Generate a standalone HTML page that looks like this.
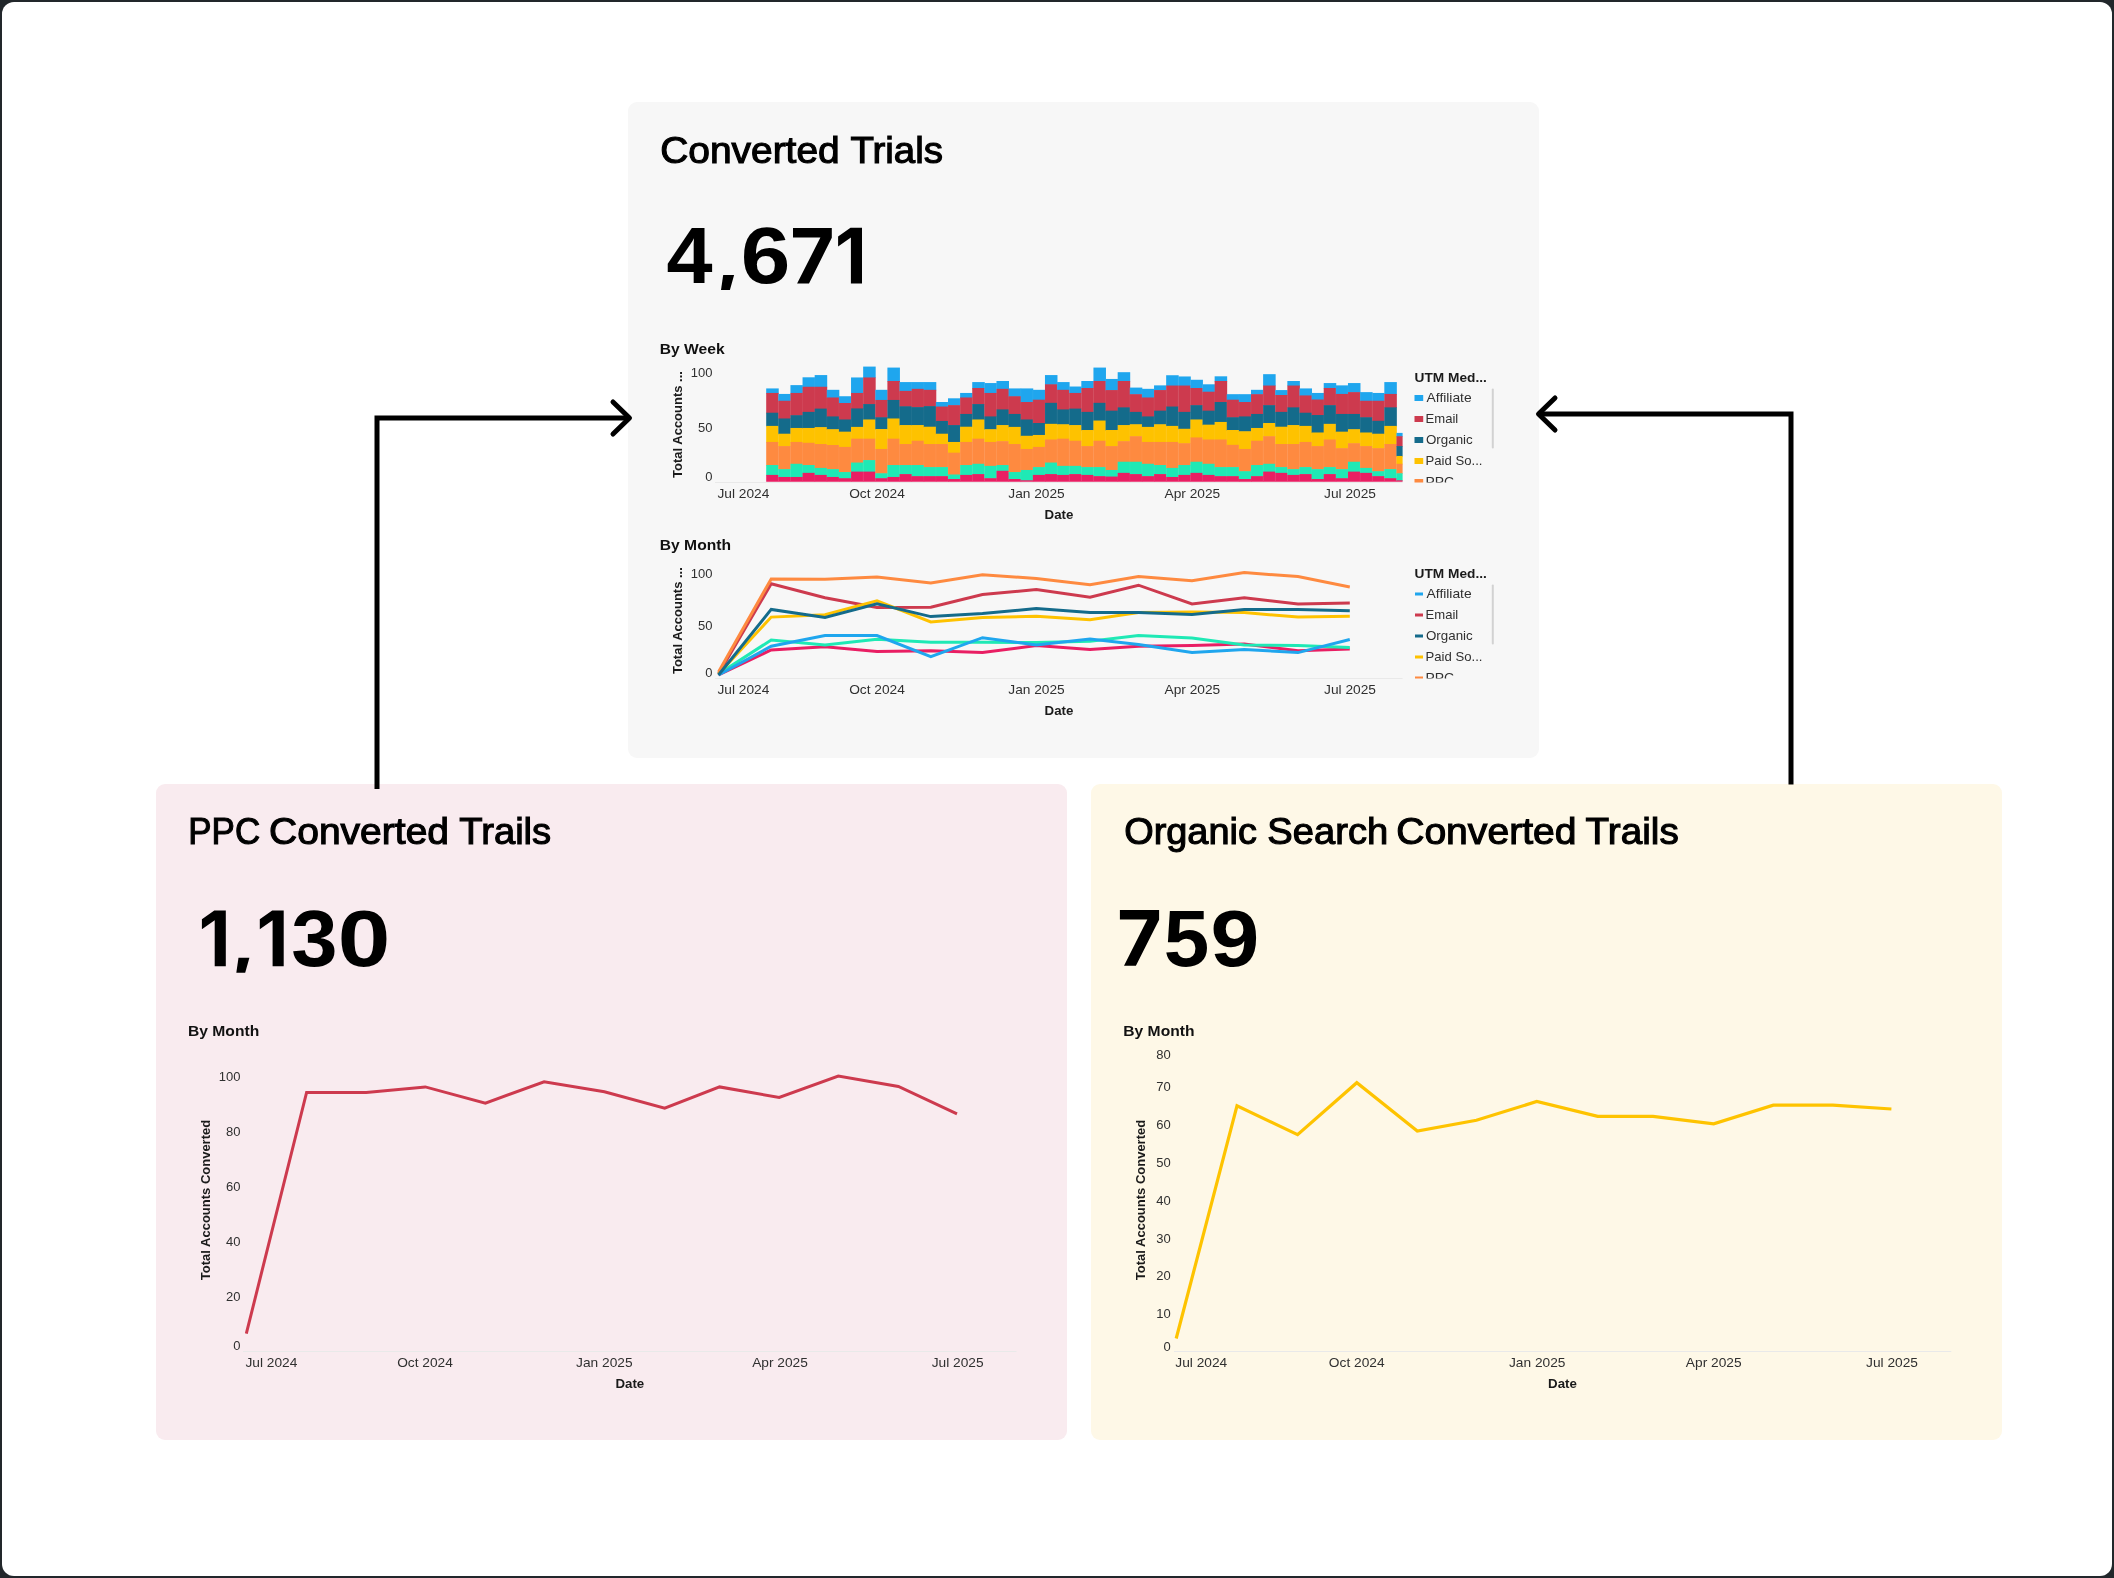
<!DOCTYPE html><html><head><meta charset="utf-8"><style>html,body{margin:0;padding:0;background:#22272b;width:2114px;height:1578px;overflow:hidden}svg{display:block;will-change:transform}text{font-family:"Liberation Sans", sans-serif;-webkit-font-smoothing:antialiased}</style></head><body>
<svg width="2114" height="1578" viewBox="0 0 2114 1578">
<rect x="0" y="0" width="2114" height="1578" fill="#22272b"/>
<rect x="2" y="2" width="2110" height="1574" rx="12" ry="12" fill="#ffffff"/>
<rect x="628" y="102" width="911" height="656" rx="9" fill="#f7f7f7"/>
<rect x="156" y="784" width="911" height="656" rx="9" fill="#f9ebef"/>
<rect x="1091" y="784" width="911" height="656" rx="9" fill="#fef8e7"/>
<g fill="none" stroke="#000" stroke-width="5">
<path d="M377,789 L377,418 L629,418" stroke-linejoin="miter" stroke-linecap="butt"/>
<path d="M613,402 L629.5,418 L613,434" stroke-linejoin="round" stroke-linecap="round"/>
<path d="M1791,784.5 L1791,414 L1538.5,414" stroke-linejoin="miter" stroke-linecap="butt"/>
<path d="M1555,398 L1538.5,414 L1555,430" stroke-linejoin="round" stroke-linecap="round"/>
</g>
<text transform="translate(660.14,162.60) scale(1.0756,1)" x="0" y="0" font-size="36.2" font-weight="400" fill="#000" stroke="#000" stroke-width="1.1">Converted</text>
<text transform="translate(850.42,162.60) scale(1.0630,1)" x="0" y="0" font-size="36.2" font-weight="400" fill="#000" stroke="#000" stroke-width="1.1">Trials</text>
<text transform="translate(188.35,844.40) scale(0.9642,1)" x="0" y="0" font-size="36.2" font-weight="400" fill="#000" stroke="#000" stroke-width="1.1">PPC</text>
<text transform="translate(269.04,844.40) scale(1.0780,1)" x="0" y="0" font-size="36.2" font-weight="400" fill="#000" stroke="#000" stroke-width="1.1">Converted</text>
<text transform="translate(459.22,844.40) scale(1.0561,1)" x="0" y="0" font-size="36.2" font-weight="400" fill="#000" stroke="#000" stroke-width="1.1">Trails</text>
<text transform="translate(1124.18,844.40) scale(1.0473,1)" x="0" y="0" font-size="36.2" font-weight="400" fill="#000" stroke="#000" stroke-width="1.1">Organic</text>
<text transform="translate(1267.36,844.40) scale(1.0538,1)" x="0" y="0" font-size="36.2" font-weight="400" fill="#000" stroke="#000" stroke-width="1.1">Search</text>
<text transform="translate(1396.14,844.40) scale(1.0805,1)" x="0" y="0" font-size="36.2" font-weight="400" fill="#000" stroke="#000" stroke-width="1.1">Converted</text>
<text transform="translate(1585.62,844.40) scale(1.0688,1)" x="0" y="0" font-size="36.2" font-weight="400" fill="#000" stroke="#000" stroke-width="1.1">Trails</text>
<path d="M723.20,275.00 L734.10,275.00 L729.90,289.90 L721.00,289.90 Z" fill="#000"/>
<path d="M238.50,957.80 L249.40,957.80 L245.20,972.70 L236.30,972.70 Z" fill="#000"/>
<path d="M793.00,228.00 L831.80,228.00 L831.80,237.80 L809.00,283.40 L797.10,283.40 L820.40,237.60 L793.00,237.60 Z" fill="#000"/>
<path d="M1119.90,909.90 L1159.10,909.90 L1159.10,919.70 L1135.90,965.70 L1124.00,965.70 L1147.30,919.50 L1119.90,919.50 Z" fill="#000"/>
<text transform="translate(666.56,283.40) scale(1.0376,1)" x="0" y="0" font-size="79.8" font-weight="700" fill="#000">4</text>
<text transform="translate(740.86,283.40) scale(1.1168,1)" x="0" y="0" font-size="79.8" font-weight="700" fill="#000">6</text>
<path d="M850.50,227.80 L862.00,227.80 L862.00,283.40 L850.90,283.40 L850.90,237.50 L838.10,246.40 L838.10,236.40 Z" fill="#000"/>
<path d="M214.30,910.60 L225.80,910.60 L225.80,966.20 L214.70,966.20 L214.70,920.30 L201.90,929.20 L201.90,919.20 Z" fill="#000"/>
<path d="M272.20,910.60 L283.70,910.60 L283.70,966.20 L272.60,966.20 L272.60,920.30 L259.80,929.20 L259.80,919.20 Z" fill="#000"/>
<text transform="translate(291.23,966.20) scale(1.0428,1)" x="0" y="0" font-size="79.8" font-weight="700" fill="#000">3</text>
<text transform="translate(337.82,966.20) scale(1.1845,1)" x="0" y="0" font-size="79.8" font-weight="700" fill="#000">0</text>
<text transform="translate(1163.75,965.70) scale(1.0252,1)" x="0" y="0" font-size="79.8" font-weight="700" fill="#000">5</text>
<text transform="translate(1210.43,965.70) scale(1.1007,1)" x="0" y="0" font-size="79.8" font-weight="700" fill="#000">9</text>
<text transform="translate(659.80,354.30) scale(1.0430,1)" x="0" y="0" font-size="15" font-weight="700" text-anchor="start" fill="#111" >By Week</text>
<text transform="translate(659.80,549.90) scale(1.0430,1)" x="0" y="0" font-size="15" font-weight="700" text-anchor="start" fill="#111" >By Month</text>
<text transform="translate(188.00,1036.10) scale(1.0430,1)" x="0" y="0" font-size="15" font-weight="700" text-anchor="start" fill="#111" >By Month</text>
<text transform="translate(1123.30,1036.10) scale(1.0430,1)" x="0" y="0" font-size="15" font-weight="700" text-anchor="start" fill="#111" >By Month</text>
<rect x="766.20" y="388.42" width="12.52" height="5.13" fill="#1fa6ee"/>
<rect x="766.20" y="392.95" width="12.52" height="20.37" fill="#cd3a4e"/>
<rect x="766.20" y="412.72" width="12.52" height="13.78" fill="#146b8b"/>
<rect x="766.20" y="425.90" width="12.52" height="16.66" fill="#fec200"/>
<rect x="766.20" y="441.96" width="12.52" height="23.66" fill="#fe8a40"/>
<rect x="766.20" y="465.02" width="12.52" height="10.48" fill="#1fe9b5"/>
<rect x="766.20" y="474.91" width="12.52" height="6.84" fill="#e91e63"/>
<rect x="778.32" y="393.94" width="12.52" height="7.44" fill="#1fa6ee"/>
<rect x="778.32" y="400.77" width="12.52" height="18.31" fill="#cd3a4e"/>
<rect x="778.32" y="418.48" width="12.52" height="15.84" fill="#146b8b"/>
<rect x="778.32" y="433.72" width="12.52" height="12.96" fill="#fec200"/>
<rect x="778.32" y="446.08" width="12.52" height="23.66" fill="#fe8a40"/>
<rect x="778.32" y="469.14" width="12.52" height="8.43" fill="#1fe9b5"/>
<rect x="778.32" y="476.97" width="12.52" height="4.78" fill="#e91e63"/>
<rect x="790.44" y="385.12" width="12.52" height="8.43" fill="#1fa6ee"/>
<rect x="790.44" y="392.95" width="12.52" height="22.84" fill="#cd3a4e"/>
<rect x="790.44" y="415.19" width="12.52" height="13.37" fill="#146b8b"/>
<rect x="790.44" y="427.96" width="12.52" height="14.60" fill="#fec200"/>
<rect x="790.44" y="441.96" width="12.52" height="22.43" fill="#fe8a40"/>
<rect x="790.44" y="463.79" width="12.52" height="13.78" fill="#1fe9b5"/>
<rect x="790.44" y="476.97" width="12.52" height="4.78" fill="#e91e63"/>
<rect x="802.56" y="377.30" width="12.52" height="10.07" fill="#1fa6ee"/>
<rect x="802.56" y="386.77" width="12.52" height="25.72" fill="#cd3a4e"/>
<rect x="802.56" y="411.89" width="12.52" height="16.66" fill="#146b8b"/>
<rect x="802.56" y="427.96" width="12.52" height="15.43" fill="#fec200"/>
<rect x="802.56" y="442.78" width="12.52" height="22.84" fill="#fe8a40"/>
<rect x="802.56" y="465.02" width="12.52" height="8.43" fill="#1fe9b5"/>
<rect x="802.56" y="472.85" width="12.52" height="8.90" fill="#e91e63"/>
<rect x="814.68" y="375.07" width="12.52" height="12.30" fill="#1fa6ee"/>
<rect x="814.68" y="386.77" width="12.52" height="22.43" fill="#cd3a4e"/>
<rect x="814.68" y="408.60" width="12.52" height="19.13" fill="#146b8b"/>
<rect x="814.68" y="427.13" width="12.52" height="17.49" fill="#fec200"/>
<rect x="814.68" y="444.02" width="12.52" height="24.49" fill="#fe8a40"/>
<rect x="814.68" y="467.91" width="12.52" height="7.60" fill="#1fe9b5"/>
<rect x="814.68" y="474.91" width="12.52" height="6.84" fill="#e91e63"/>
<rect x="826.80" y="389.82" width="12.52" height="8.26" fill="#1fa6ee"/>
<rect x="826.80" y="397.48" width="12.52" height="19.55" fill="#cd3a4e"/>
<rect x="826.80" y="416.43" width="12.52" height="13.37" fill="#146b8b"/>
<rect x="826.80" y="429.19" width="12.52" height="16.42" fill="#fec200"/>
<rect x="826.80" y="445.01" width="12.52" height="24.74" fill="#fe8a40"/>
<rect x="826.80" y="469.14" width="12.52" height="8.43" fill="#1fe9b5"/>
<rect x="826.80" y="476.97" width="12.52" height="4.78" fill="#e91e63"/>
<rect x="838.92" y="396.24" width="12.52" height="7.35" fill="#1fa6ee"/>
<rect x="838.92" y="403.00" width="12.52" height="17.07" fill="#cd3a4e"/>
<rect x="838.92" y="419.47" width="12.52" height="12.79" fill="#146b8b"/>
<rect x="838.92" y="431.66" width="12.52" height="15.84" fill="#fec200"/>
<rect x="838.92" y="446.90" width="12.52" height="25.72" fill="#fe8a40"/>
<rect x="838.92" y="472.03" width="12.52" height="6.78" fill="#1fe9b5"/>
<rect x="838.92" y="478.20" width="12.52" height="3.54" fill="#e91e63"/>
<rect x="851.04" y="377.46" width="12.52" height="16.09" fill="#1fa6ee"/>
<rect x="851.04" y="392.95" width="12.52" height="16.09" fill="#cd3a4e"/>
<rect x="851.04" y="408.43" width="12.52" height="19.05" fill="#146b8b"/>
<rect x="851.04" y="426.89" width="12.52" height="12.38" fill="#fec200"/>
<rect x="851.04" y="438.67" width="12.52" height="24.49" fill="#fe8a40"/>
<rect x="851.04" y="462.55" width="12.52" height="9.66" fill="#1fe9b5"/>
<rect x="851.04" y="471.61" width="12.52" height="10.13" fill="#e91e63"/>
<rect x="863.16" y="366.59" width="12.52" height="11.47" fill="#1fa6ee"/>
<rect x="863.16" y="377.46" width="12.52" height="27.21" fill="#cd3a4e"/>
<rect x="863.16" y="404.07" width="12.52" height="16.00" fill="#146b8b"/>
<rect x="863.16" y="419.47" width="12.52" height="19.79" fill="#fec200"/>
<rect x="863.16" y="438.67" width="12.52" height="22.02" fill="#fe8a40"/>
<rect x="863.16" y="460.08" width="12.52" height="12.13" fill="#1fe9b5"/>
<rect x="863.16" y="471.61" width="12.52" height="10.13" fill="#e91e63"/>
<rect x="875.28" y="389.82" width="12.52" height="10.73" fill="#1fa6ee"/>
<rect x="875.28" y="399.95" width="12.52" height="17.90" fill="#cd3a4e"/>
<rect x="875.28" y="417.25" width="12.52" height="12.38" fill="#146b8b"/>
<rect x="875.28" y="429.03" width="12.52" height="20.53" fill="#fec200"/>
<rect x="875.28" y="448.96" width="12.52" height="24.90" fill="#fe8a40"/>
<rect x="875.28" y="473.26" width="12.52" height="5.54" fill="#1fe9b5"/>
<rect x="875.28" y="478.20" width="12.52" height="3.54" fill="#e91e63"/>
<rect x="887.40" y="367.58" width="12.52" height="14.03" fill="#1fa6ee"/>
<rect x="887.40" y="381.00" width="12.52" height="19.55" fill="#cd3a4e"/>
<rect x="887.40" y="399.95" width="12.52" height="19.13" fill="#146b8b"/>
<rect x="887.40" y="418.48" width="12.52" height="20.78" fill="#fec200"/>
<rect x="887.40" y="438.67" width="12.52" height="26.96" fill="#fe8a40"/>
<rect x="887.40" y="465.02" width="12.52" height="12.54" fill="#1fe9b5"/>
<rect x="887.40" y="476.97" width="12.52" height="4.78" fill="#e91e63"/>
<rect x="899.52" y="382.08" width="12.52" height="9.41" fill="#1fa6ee"/>
<rect x="899.52" y="390.89" width="12.52" height="16.00" fill="#cd3a4e"/>
<rect x="899.52" y="406.29" width="12.52" height="19.38" fill="#146b8b"/>
<rect x="899.52" y="425.07" width="12.52" height="19.55" fill="#fec200"/>
<rect x="899.52" y="444.02" width="12.52" height="21.60" fill="#fe8a40"/>
<rect x="899.52" y="465.02" width="12.52" height="9.66" fill="#1fe9b5"/>
<rect x="899.52" y="474.09" width="12.52" height="7.66" fill="#e91e63"/>
<rect x="911.64" y="382.08" width="12.52" height="7.35" fill="#1fa6ee"/>
<rect x="911.64" y="388.83" width="12.52" height="18.89" fill="#cd3a4e"/>
<rect x="911.64" y="407.12" width="12.52" height="18.56" fill="#146b8b"/>
<rect x="911.64" y="425.07" width="12.52" height="16.25" fill="#fec200"/>
<rect x="911.64" y="440.72" width="12.52" height="24.90" fill="#fe8a40"/>
<rect x="911.64" y="465.02" width="12.52" height="11.72" fill="#1fe9b5"/>
<rect x="911.64" y="476.14" width="12.52" height="5.60" fill="#e91e63"/>
<rect x="923.76" y="382.08" width="12.52" height="8.34" fill="#1fa6ee"/>
<rect x="923.76" y="389.82" width="12.52" height="16.91" fill="#cd3a4e"/>
<rect x="923.76" y="406.13" width="12.52" height="21.19" fill="#146b8b"/>
<rect x="923.76" y="426.72" width="12.52" height="17.90" fill="#fec200"/>
<rect x="923.76" y="444.02" width="12.52" height="23.66" fill="#fe8a40"/>
<rect x="923.76" y="467.08" width="12.52" height="9.66" fill="#1fe9b5"/>
<rect x="923.76" y="476.14" width="12.52" height="5.60" fill="#e91e63"/>
<rect x="935.88" y="402.01" width="12.52" height="5.13" fill="#1fa6ee"/>
<rect x="935.88" y="406.54" width="12.52" height="15.02" fill="#cd3a4e"/>
<rect x="935.88" y="420.96" width="12.52" height="13.37" fill="#146b8b"/>
<rect x="935.88" y="433.72" width="12.52" height="10.90" fill="#fec200"/>
<rect x="935.88" y="444.02" width="12.52" height="23.66" fill="#fe8a40"/>
<rect x="935.88" y="467.08" width="12.52" height="9.66" fill="#1fe9b5"/>
<rect x="935.88" y="476.14" width="12.52" height="5.60" fill="#e91e63"/>
<rect x="948.00" y="398.30" width="12.52" height="7.44" fill="#1fa6ee"/>
<rect x="948.00" y="405.14" width="12.52" height="20.53" fill="#cd3a4e"/>
<rect x="948.00" y="425.07" width="12.52" height="17.49" fill="#146b8b"/>
<rect x="948.00" y="441.96" width="12.52" height="11.31" fill="#fec200"/>
<rect x="948.00" y="452.67" width="12.52" height="22.43" fill="#fe8a40"/>
<rect x="948.00" y="474.50" width="12.52" height="5.13" fill="#1fe9b5"/>
<rect x="948.00" y="479.03" width="12.52" height="2.72" fill="#e91e63"/>
<rect x="960.12" y="392.95" width="12.52" height="5.13" fill="#1fa6ee"/>
<rect x="960.12" y="397.48" width="12.52" height="17.07" fill="#cd3a4e"/>
<rect x="960.12" y="413.95" width="12.52" height="13.37" fill="#146b8b"/>
<rect x="960.12" y="426.72" width="12.52" height="15.84" fill="#fec200"/>
<rect x="960.12" y="441.96" width="12.52" height="23.66" fill="#fe8a40"/>
<rect x="960.12" y="465.02" width="12.52" height="10.48" fill="#1fe9b5"/>
<rect x="960.12" y="474.91" width="12.52" height="6.84" fill="#e91e63"/>
<rect x="972.24" y="382.08" width="12.52" height="6.53" fill="#1fa6ee"/>
<rect x="972.24" y="388.01" width="12.52" height="16.66" fill="#cd3a4e"/>
<rect x="972.24" y="404.07" width="12.52" height="16.00" fill="#146b8b"/>
<rect x="972.24" y="419.47" width="12.52" height="19.79" fill="#fec200"/>
<rect x="972.24" y="438.67" width="12.52" height="25.72" fill="#fe8a40"/>
<rect x="972.24" y="463.79" width="12.52" height="10.90" fill="#1fe9b5"/>
<rect x="972.24" y="474.09" width="12.52" height="7.66" fill="#e91e63"/>
<rect x="984.36" y="383.06" width="12.52" height="10.48" fill="#1fa6ee"/>
<rect x="984.36" y="392.95" width="12.52" height="24.08" fill="#cd3a4e"/>
<rect x="984.36" y="416.43" width="12.52" height="13.37" fill="#146b8b"/>
<rect x="984.36" y="429.19" width="12.52" height="13.37" fill="#fec200"/>
<rect x="984.36" y="441.96" width="12.52" height="24.49" fill="#fe8a40"/>
<rect x="984.36" y="465.85" width="12.52" height="12.96" fill="#1fe9b5"/>
<rect x="984.36" y="478.20" width="12.52" height="3.54" fill="#e91e63"/>
<rect x="996.48" y="381.00" width="12.52" height="8.43" fill="#1fa6ee"/>
<rect x="996.48" y="388.83" width="12.52" height="21.19" fill="#cd3a4e"/>
<rect x="996.48" y="409.42" width="12.52" height="16.25" fill="#146b8b"/>
<rect x="996.48" y="425.07" width="12.52" height="16.66" fill="#fec200"/>
<rect x="996.48" y="441.14" width="12.52" height="24.49" fill="#fe8a40"/>
<rect x="996.48" y="465.02" width="12.52" height="6.37" fill="#1fe9b5"/>
<rect x="996.48" y="470.79" width="12.52" height="10.96" fill="#e91e63"/>
<rect x="1008.60" y="388.42" width="12.52" height="8.43" fill="#1fa6ee"/>
<rect x="1008.60" y="396.24" width="12.52" height="18.31" fill="#cd3a4e"/>
<rect x="1008.60" y="413.95" width="12.52" height="13.53" fill="#146b8b"/>
<rect x="1008.60" y="426.89" width="12.52" height="17.73" fill="#fec200"/>
<rect x="1008.60" y="444.02" width="12.52" height="28.61" fill="#fe8a40"/>
<rect x="1008.60" y="472.03" width="12.52" height="7.60" fill="#1fe9b5"/>
<rect x="1008.60" y="479.03" width="12.52" height="2.72" fill="#e91e63"/>
<rect x="1020.72" y="388.42" width="12.52" height="14.19" fill="#1fa6ee"/>
<rect x="1020.72" y="402.01" width="12.52" height="18.06" fill="#cd3a4e"/>
<rect x="1020.72" y="419.47" width="12.52" height="16.91" fill="#146b8b"/>
<rect x="1020.72" y="435.78" width="12.52" height="13.78" fill="#fec200"/>
<rect x="1020.72" y="448.96" width="12.52" height="21.60" fill="#fe8a40"/>
<rect x="1020.72" y="469.97" width="12.52" height="10.90" fill="#1fe9b5"/>
<rect x="1020.72" y="480.26" width="12.52" height="1.48" fill="#e91e63"/>
<rect x="1032.84" y="389.82" width="12.52" height="10.48" fill="#1fa6ee"/>
<rect x="1032.84" y="399.70" width="12.52" height="23.91" fill="#cd3a4e"/>
<rect x="1032.84" y="423.01" width="12.52" height="12.54" fill="#146b8b"/>
<rect x="1032.84" y="434.96" width="12.52" height="12.54" fill="#fec200"/>
<rect x="1032.84" y="446.90" width="12.52" height="20.78" fill="#fe8a40"/>
<rect x="1032.84" y="467.08" width="12.52" height="8.43" fill="#1fe9b5"/>
<rect x="1032.84" y="474.91" width="12.52" height="6.84" fill="#e91e63"/>
<rect x="1044.96" y="375.07" width="12.52" height="9.83" fill="#1fa6ee"/>
<rect x="1044.96" y="384.30" width="12.52" height="19.13" fill="#cd3a4e"/>
<rect x="1044.96" y="402.83" width="12.52" height="21.60" fill="#146b8b"/>
<rect x="1044.96" y="423.84" width="12.52" height="16.25" fill="#fec200"/>
<rect x="1044.96" y="439.49" width="12.52" height="23.66" fill="#fe8a40"/>
<rect x="1044.96" y="462.55" width="12.52" height="12.13" fill="#1fe9b5"/>
<rect x="1044.96" y="474.09" width="12.52" height="7.66" fill="#e91e63"/>
<rect x="1057.08" y="382.08" width="12.52" height="8.34" fill="#1fa6ee"/>
<rect x="1057.08" y="389.82" width="12.52" height="20.20" fill="#cd3a4e"/>
<rect x="1057.08" y="409.42" width="12.52" height="15.43" fill="#146b8b"/>
<rect x="1057.08" y="424.25" width="12.52" height="15.02" fill="#fec200"/>
<rect x="1057.08" y="438.67" width="12.52" height="27.78" fill="#fe8a40"/>
<rect x="1057.08" y="465.85" width="12.52" height="9.66" fill="#1fe9b5"/>
<rect x="1057.08" y="474.91" width="12.52" height="6.84" fill="#e91e63"/>
<rect x="1069.20" y="386.52" width="12.52" height="7.03" fill="#1fa6ee"/>
<rect x="1069.20" y="392.95" width="12.52" height="16.25" fill="#cd3a4e"/>
<rect x="1069.20" y="408.60" width="12.52" height="17.07" fill="#146b8b"/>
<rect x="1069.20" y="425.07" width="12.52" height="16.25" fill="#fec200"/>
<rect x="1069.20" y="440.72" width="12.52" height="25.72" fill="#fe8a40"/>
<rect x="1069.20" y="465.85" width="12.52" height="8.84" fill="#1fe9b5"/>
<rect x="1069.20" y="474.09" width="12.52" height="7.66" fill="#e91e63"/>
<rect x="1081.32" y="381.00" width="12.52" height="7.60" fill="#1fa6ee"/>
<rect x="1081.32" y="388.01" width="12.52" height="24.49" fill="#cd3a4e"/>
<rect x="1081.32" y="411.89" width="12.52" height="18.72" fill="#146b8b"/>
<rect x="1081.32" y="430.02" width="12.52" height="16.66" fill="#fec200"/>
<rect x="1081.32" y="446.08" width="12.52" height="21.60" fill="#fe8a40"/>
<rect x="1081.32" y="467.08" width="12.52" height="8.43" fill="#1fe9b5"/>
<rect x="1081.32" y="474.91" width="12.52" height="6.84" fill="#e91e63"/>
<rect x="1093.44" y="367.58" width="12.52" height="14.03" fill="#1fa6ee"/>
<rect x="1093.44" y="381.00" width="12.52" height="22.43" fill="#cd3a4e"/>
<rect x="1093.44" y="402.83" width="12.52" height="18.31" fill="#146b8b"/>
<rect x="1093.44" y="420.54" width="12.52" height="20.78" fill="#fec200"/>
<rect x="1093.44" y="440.72" width="12.52" height="26.96" fill="#fe8a40"/>
<rect x="1093.44" y="467.08" width="12.52" height="9.66" fill="#1fe9b5"/>
<rect x="1093.44" y="476.14" width="12.52" height="5.60" fill="#e91e63"/>
<rect x="1105.56" y="378.95" width="12.52" height="11.72" fill="#1fa6ee"/>
<rect x="1105.56" y="390.07" width="12.52" height="21.19" fill="#cd3a4e"/>
<rect x="1105.56" y="410.66" width="12.52" height="19.96" fill="#146b8b"/>
<rect x="1105.56" y="430.02" width="12.52" height="16.66" fill="#fec200"/>
<rect x="1105.56" y="446.08" width="12.52" height="24.49" fill="#fe8a40"/>
<rect x="1105.56" y="469.97" width="12.52" height="7.19" fill="#1fe9b5"/>
<rect x="1105.56" y="476.56" width="12.52" height="5.19" fill="#e91e63"/>
<rect x="1117.68" y="372.19" width="12.52" height="9.41" fill="#1fa6ee"/>
<rect x="1117.68" y="381.00" width="12.52" height="26.96" fill="#cd3a4e"/>
<rect x="1117.68" y="407.36" width="12.52" height="18.31" fill="#146b8b"/>
<rect x="1117.68" y="425.07" width="12.52" height="16.66" fill="#fec200"/>
<rect x="1117.68" y="441.14" width="12.52" height="21.19" fill="#fe8a40"/>
<rect x="1117.68" y="461.73" width="12.52" height="11.72" fill="#1fe9b5"/>
<rect x="1117.68" y="472.85" width="12.52" height="8.90" fill="#e91e63"/>
<rect x="1129.80" y="387.59" width="12.52" height="7.19" fill="#1fa6ee"/>
<rect x="1129.80" y="394.18" width="12.52" height="18.31" fill="#cd3a4e"/>
<rect x="1129.80" y="411.89" width="12.52" height="12.96" fill="#146b8b"/>
<rect x="1129.80" y="424.25" width="12.52" height="12.54" fill="#fec200"/>
<rect x="1129.80" y="436.19" width="12.52" height="26.14" fill="#fe8a40"/>
<rect x="1129.80" y="461.73" width="12.52" height="12.96" fill="#1fe9b5"/>
<rect x="1129.80" y="474.09" width="12.52" height="7.66" fill="#e91e63"/>
<rect x="1141.92" y="388.83" width="12.52" height="9.25" fill="#1fa6ee"/>
<rect x="1141.92" y="397.48" width="12.52" height="19.55" fill="#cd3a4e"/>
<rect x="1141.92" y="416.43" width="12.52" height="11.06" fill="#146b8b"/>
<rect x="1141.92" y="426.89" width="12.52" height="15.67" fill="#fec200"/>
<rect x="1141.92" y="441.96" width="12.52" height="22.43" fill="#fe8a40"/>
<rect x="1141.92" y="463.79" width="12.52" height="12.96" fill="#1fe9b5"/>
<rect x="1141.92" y="476.14" width="12.52" height="5.60" fill="#e91e63"/>
<rect x="1154.04" y="385.37" width="12.52" height="5.30" fill="#1fa6ee"/>
<rect x="1154.04" y="390.07" width="12.52" height="21.19" fill="#cd3a4e"/>
<rect x="1154.04" y="410.66" width="12.52" height="14.19" fill="#146b8b"/>
<rect x="1154.04" y="424.25" width="12.52" height="18.31" fill="#fec200"/>
<rect x="1154.04" y="441.96" width="12.52" height="23.66" fill="#fe8a40"/>
<rect x="1154.04" y="465.02" width="12.52" height="9.66" fill="#1fe9b5"/>
<rect x="1154.04" y="474.09" width="12.52" height="7.66" fill="#e91e63"/>
<rect x="1166.16" y="375.24" width="12.52" height="10.90" fill="#1fa6ee"/>
<rect x="1166.16" y="385.54" width="12.52" height="21.60" fill="#cd3a4e"/>
<rect x="1166.16" y="406.54" width="12.52" height="19.96" fill="#146b8b"/>
<rect x="1166.16" y="425.90" width="12.52" height="16.66" fill="#fec200"/>
<rect x="1166.16" y="441.96" width="12.52" height="26.55" fill="#fe8a40"/>
<rect x="1166.16" y="467.91" width="12.52" height="9.66" fill="#1fe9b5"/>
<rect x="1166.16" y="476.97" width="12.52" height="4.78" fill="#e91e63"/>
<rect x="1178.28" y="376.47" width="12.52" height="9.66" fill="#1fa6ee"/>
<rect x="1178.28" y="385.54" width="12.52" height="26.96" fill="#cd3a4e"/>
<rect x="1178.28" y="411.89" width="12.52" height="17.49" fill="#146b8b"/>
<rect x="1178.28" y="428.78" width="12.52" height="15.02" fill="#fec200"/>
<rect x="1178.28" y="443.20" width="12.52" height="22.43" fill="#fe8a40"/>
<rect x="1178.28" y="465.02" width="12.52" height="10.48" fill="#1fe9b5"/>
<rect x="1178.28" y="474.91" width="12.52" height="6.84" fill="#e91e63"/>
<rect x="1190.40" y="379.77" width="12.52" height="8.84" fill="#1fa6ee"/>
<rect x="1190.40" y="388.01" width="12.52" height="17.73" fill="#cd3a4e"/>
<rect x="1190.40" y="405.14" width="12.52" height="14.93" fill="#146b8b"/>
<rect x="1190.40" y="419.47" width="12.52" height="18.56" fill="#fec200"/>
<rect x="1190.40" y="437.43" width="12.52" height="24.90" fill="#fe8a40"/>
<rect x="1190.40" y="461.73" width="12.52" height="11.72" fill="#1fe9b5"/>
<rect x="1190.40" y="472.85" width="12.52" height="8.90" fill="#e91e63"/>
<rect x="1202.52" y="384.30" width="12.52" height="8.01" fill="#1fa6ee"/>
<rect x="1202.52" y="391.71" width="12.52" height="19.55" fill="#cd3a4e"/>
<rect x="1202.52" y="410.66" width="12.52" height="14.60" fill="#146b8b"/>
<rect x="1202.52" y="424.66" width="12.52" height="15.43" fill="#fec200"/>
<rect x="1202.52" y="439.49" width="12.52" height="24.90" fill="#fe8a40"/>
<rect x="1202.52" y="463.79" width="12.52" height="11.72" fill="#1fe9b5"/>
<rect x="1202.52" y="474.91" width="12.52" height="6.84" fill="#e91e63"/>
<rect x="1214.64" y="376.31" width="12.52" height="5.30" fill="#1fa6ee"/>
<rect x="1214.64" y="381.00" width="12.52" height="21.60" fill="#cd3a4e"/>
<rect x="1214.64" y="402.01" width="12.52" height="20.53" fill="#146b8b"/>
<rect x="1214.64" y="421.94" width="12.52" height="18.15" fill="#fec200"/>
<rect x="1214.64" y="439.49" width="12.52" height="28.19" fill="#fe8a40"/>
<rect x="1214.64" y="467.08" width="12.52" height="9.66" fill="#1fe9b5"/>
<rect x="1214.64" y="476.14" width="12.52" height="5.60" fill="#e91e63"/>
<rect x="1226.76" y="394.18" width="12.52" height="6.12" fill="#1fa6ee"/>
<rect x="1226.76" y="399.70" width="12.52" height="18.15" fill="#cd3a4e"/>
<rect x="1226.76" y="417.25" width="12.52" height="13.37" fill="#146b8b"/>
<rect x="1226.76" y="430.02" width="12.52" height="15.43" fill="#fec200"/>
<rect x="1226.76" y="444.84" width="12.52" height="22.84" fill="#fe8a40"/>
<rect x="1226.76" y="467.08" width="12.52" height="9.66" fill="#1fe9b5"/>
<rect x="1226.76" y="476.14" width="12.52" height="5.60" fill="#e91e63"/>
<rect x="1238.88" y="394.18" width="12.52" height="8.43" fill="#1fa6ee"/>
<rect x="1238.88" y="402.01" width="12.52" height="15.02" fill="#cd3a4e"/>
<rect x="1238.88" y="416.43" width="12.52" height="15.43" fill="#146b8b"/>
<rect x="1238.88" y="431.25" width="12.52" height="18.31" fill="#fec200"/>
<rect x="1238.88" y="448.96" width="12.52" height="22.84" fill="#fe8a40"/>
<rect x="1238.88" y="471.20" width="12.52" height="8.43" fill="#1fe9b5"/>
<rect x="1238.88" y="479.03" width="12.52" height="2.72" fill="#e91e63"/>
<rect x="1251.00" y="389.82" width="12.52" height="4.97" fill="#1fa6ee"/>
<rect x="1251.00" y="394.18" width="12.52" height="20.37" fill="#cd3a4e"/>
<rect x="1251.00" y="413.95" width="12.52" height="14.60" fill="#146b8b"/>
<rect x="1251.00" y="427.96" width="12.52" height="13.37" fill="#fec200"/>
<rect x="1251.00" y="440.72" width="12.52" height="24.90" fill="#fe8a40"/>
<rect x="1251.00" y="465.02" width="12.52" height="11.72" fill="#1fe9b5"/>
<rect x="1251.00" y="476.14" width="12.52" height="5.60" fill="#e91e63"/>
<rect x="1263.12" y="374.17" width="12.52" height="11.97" fill="#1fa6ee"/>
<rect x="1263.12" y="385.54" width="12.52" height="20.20" fill="#cd3a4e"/>
<rect x="1263.12" y="405.14" width="12.52" height="18.47" fill="#146b8b"/>
<rect x="1263.12" y="423.01" width="12.52" height="13.78" fill="#fec200"/>
<rect x="1263.12" y="436.19" width="12.52" height="28.19" fill="#fe8a40"/>
<rect x="1263.12" y="463.79" width="12.52" height="8.43" fill="#1fe9b5"/>
<rect x="1263.12" y="471.61" width="12.52" height="10.13" fill="#e91e63"/>
<rect x="1275.24" y="390.07" width="12.52" height="5.54" fill="#1fa6ee"/>
<rect x="1275.24" y="395.01" width="12.52" height="17.49" fill="#cd3a4e"/>
<rect x="1275.24" y="411.89" width="12.52" height="15.43" fill="#146b8b"/>
<rect x="1275.24" y="426.72" width="12.52" height="17.90" fill="#fec200"/>
<rect x="1275.24" y="444.02" width="12.52" height="23.66" fill="#fe8a40"/>
<rect x="1275.24" y="467.08" width="12.52" height="6.37" fill="#1fe9b5"/>
<rect x="1275.24" y="472.85" width="12.52" height="8.90" fill="#e91e63"/>
<rect x="1287.36" y="381.00" width="12.52" height="5.13" fill="#1fa6ee"/>
<rect x="1287.36" y="385.54" width="12.52" height="22.43" fill="#cd3a4e"/>
<rect x="1287.36" y="407.36" width="12.52" height="18.31" fill="#146b8b"/>
<rect x="1287.36" y="425.07" width="12.52" height="19.55" fill="#fec200"/>
<rect x="1287.36" y="444.02" width="12.52" height="25.72" fill="#fe8a40"/>
<rect x="1287.36" y="469.14" width="12.52" height="6.37" fill="#1fe9b5"/>
<rect x="1287.36" y="474.91" width="12.52" height="6.84" fill="#e91e63"/>
<rect x="1299.48" y="388.42" width="12.52" height="7.60" fill="#1fa6ee"/>
<rect x="1299.48" y="395.42" width="12.52" height="17.90" fill="#cd3a4e"/>
<rect x="1299.48" y="412.72" width="12.52" height="13.78" fill="#146b8b"/>
<rect x="1299.48" y="425.90" width="12.52" height="16.66" fill="#fec200"/>
<rect x="1299.48" y="441.96" width="12.52" height="25.72" fill="#fe8a40"/>
<rect x="1299.48" y="467.08" width="12.52" height="7.60" fill="#1fe9b5"/>
<rect x="1299.48" y="474.09" width="12.52" height="7.66" fill="#e91e63"/>
<rect x="1311.60" y="392.95" width="12.52" height="7.19" fill="#1fa6ee"/>
<rect x="1311.60" y="399.54" width="12.52" height="16.09" fill="#cd3a4e"/>
<rect x="1311.60" y="415.02" width="12.52" height="18.06" fill="#146b8b"/>
<rect x="1311.60" y="432.49" width="12.52" height="14.19" fill="#fec200"/>
<rect x="1311.60" y="446.08" width="12.52" height="23.66" fill="#fe8a40"/>
<rect x="1311.60" y="469.14" width="12.52" height="10.48" fill="#1fe9b5"/>
<rect x="1311.60" y="479.03" width="12.52" height="2.72" fill="#e91e63"/>
<rect x="1323.72" y="383.06" width="12.52" height="5.54" fill="#1fa6ee"/>
<rect x="1323.72" y="388.01" width="12.52" height="17.73" fill="#cd3a4e"/>
<rect x="1323.72" y="405.14" width="12.52" height="19.30" fill="#146b8b"/>
<rect x="1323.72" y="423.84" width="12.52" height="16.25" fill="#fec200"/>
<rect x="1323.72" y="439.49" width="12.52" height="28.19" fill="#fe8a40"/>
<rect x="1323.72" y="467.08" width="12.52" height="7.60" fill="#1fe9b5"/>
<rect x="1323.72" y="474.09" width="12.52" height="7.66" fill="#e91e63"/>
<rect x="1335.84" y="385.37" width="12.52" height="9.17" fill="#1fa6ee"/>
<rect x="1335.84" y="393.94" width="12.52" height="20.62" fill="#cd3a4e"/>
<rect x="1335.84" y="413.95" width="12.52" height="18.31" fill="#146b8b"/>
<rect x="1335.84" y="431.66" width="12.52" height="17.07" fill="#fec200"/>
<rect x="1335.84" y="448.14" width="12.52" height="21.60" fill="#fe8a40"/>
<rect x="1335.84" y="469.14" width="12.52" height="9.66" fill="#1fe9b5"/>
<rect x="1335.84" y="478.20" width="12.52" height="3.54" fill="#e91e63"/>
<rect x="1347.96" y="383.06" width="12.52" height="9.66" fill="#1fa6ee"/>
<rect x="1347.96" y="392.13" width="12.52" height="22.43" fill="#cd3a4e"/>
<rect x="1347.96" y="413.95" width="12.52" height="15.84" fill="#146b8b"/>
<rect x="1347.96" y="429.19" width="12.52" height="14.60" fill="#fec200"/>
<rect x="1347.96" y="443.20" width="12.52" height="19.13" fill="#fe8a40"/>
<rect x="1347.96" y="461.73" width="12.52" height="10.48" fill="#1fe9b5"/>
<rect x="1347.96" y="471.61" width="12.52" height="10.13" fill="#e91e63"/>
<rect x="1360.08" y="392.13" width="12.52" height="9.25" fill="#1fa6ee"/>
<rect x="1360.08" y="400.77" width="12.52" height="17.07" fill="#cd3a4e"/>
<rect x="1360.08" y="417.25" width="12.52" height="15.84" fill="#146b8b"/>
<rect x="1360.08" y="432.49" width="12.52" height="14.19" fill="#fec200"/>
<rect x="1360.08" y="446.08" width="12.52" height="22.43" fill="#fe8a40"/>
<rect x="1360.08" y="467.91" width="12.52" height="5.54" fill="#1fe9b5"/>
<rect x="1360.08" y="472.85" width="12.52" height="8.90" fill="#e91e63"/>
<rect x="1372.20" y="392.95" width="12.52" height="8.43" fill="#1fa6ee"/>
<rect x="1372.20" y="400.77" width="12.52" height="20.62" fill="#cd3a4e"/>
<rect x="1372.20" y="420.79" width="12.52" height="13.53" fill="#146b8b"/>
<rect x="1372.20" y="433.72" width="12.52" height="15.02" fill="#fec200"/>
<rect x="1372.20" y="448.14" width="12.52" height="23.66" fill="#fe8a40"/>
<rect x="1372.20" y="471.20" width="12.52" height="5.54" fill="#1fe9b5"/>
<rect x="1372.20" y="476.14" width="12.52" height="5.60" fill="#e91e63"/>
<rect x="1384.32" y="382.08" width="12.52" height="12.46" fill="#1fa6ee"/>
<rect x="1384.32" y="393.94" width="12.52" height="14.03" fill="#cd3a4e"/>
<rect x="1384.32" y="407.36" width="12.52" height="19.13" fill="#146b8b"/>
<rect x="1384.32" y="425.90" width="12.52" height="18.72" fill="#fec200"/>
<rect x="1384.32" y="444.02" width="12.52" height="25.72" fill="#fe8a40"/>
<rect x="1384.32" y="469.14" width="12.52" height="9.66" fill="#1fe9b5"/>
<rect x="1384.32" y="478.20" width="12.52" height="3.54" fill="#e91e63"/>
<rect x="1396.44" y="432.90" width="6.16" height="3.89" fill="#1fa6ee"/>
<rect x="1396.44" y="436.19" width="6.16" height="10.48" fill="#cd3a4e"/>
<rect x="1396.44" y="446.08" width="6.16" height="10.48" fill="#146b8b"/>
<rect x="1396.44" y="455.96" width="6.16" height="8.43" fill="#fec200"/>
<rect x="1396.44" y="463.79" width="6.16" height="10.07" fill="#fe8a40"/>
<rect x="1396.44" y="473.26" width="6.16" height="7.60" fill="#1fe9b5"/>
<rect x="1396.44" y="480.26" width="6.16" height="1.48" fill="#e91e63"/>
<g>
<line x1="778.32" y1="393.94" x2="778.32" y2="481.75" stroke="#ffffff" stroke-opacity="0.07" stroke-width="0.8"/>
<line x1="790.44" y1="393.94" x2="790.44" y2="481.75" stroke="#ffffff" stroke-opacity="0.07" stroke-width="0.8"/>
<line x1="802.56" y1="385.12" x2="802.56" y2="481.75" stroke="#ffffff" stroke-opacity="0.07" stroke-width="0.8"/>
<line x1="814.68" y1="377.30" x2="814.68" y2="481.75" stroke="#ffffff" stroke-opacity="0.07" stroke-width="0.8"/>
<line x1="826.80" y1="389.82" x2="826.80" y2="481.75" stroke="#ffffff" stroke-opacity="0.07" stroke-width="0.8"/>
<line x1="838.92" y1="396.24" x2="838.92" y2="481.75" stroke="#ffffff" stroke-opacity="0.07" stroke-width="0.8"/>
<line x1="851.04" y1="396.24" x2="851.04" y2="481.75" stroke="#ffffff" stroke-opacity="0.07" stroke-width="0.8"/>
<line x1="863.16" y1="377.46" x2="863.16" y2="481.75" stroke="#ffffff" stroke-opacity="0.07" stroke-width="0.8"/>
<line x1="875.28" y1="389.82" x2="875.28" y2="481.75" stroke="#ffffff" stroke-opacity="0.07" stroke-width="0.8"/>
<line x1="887.40" y1="389.82" x2="887.40" y2="481.75" stroke="#ffffff" stroke-opacity="0.07" stroke-width="0.8"/>
<line x1="899.52" y1="382.08" x2="899.52" y2="481.75" stroke="#ffffff" stroke-opacity="0.07" stroke-width="0.8"/>
<line x1="911.64" y1="382.08" x2="911.64" y2="481.75" stroke="#ffffff" stroke-opacity="0.07" stroke-width="0.8"/>
<line x1="923.76" y1="382.08" x2="923.76" y2="481.75" stroke="#ffffff" stroke-opacity="0.07" stroke-width="0.8"/>
<line x1="935.88" y1="402.01" x2="935.88" y2="481.75" stroke="#ffffff" stroke-opacity="0.07" stroke-width="0.8"/>
<line x1="948.00" y1="402.01" x2="948.00" y2="481.75" stroke="#ffffff" stroke-opacity="0.07" stroke-width="0.8"/>
<line x1="960.12" y1="398.30" x2="960.12" y2="481.75" stroke="#ffffff" stroke-opacity="0.07" stroke-width="0.8"/>
<line x1="972.24" y1="392.95" x2="972.24" y2="481.75" stroke="#ffffff" stroke-opacity="0.07" stroke-width="0.8"/>
<line x1="984.36" y1="383.06" x2="984.36" y2="481.75" stroke="#ffffff" stroke-opacity="0.07" stroke-width="0.8"/>
<line x1="996.48" y1="383.06" x2="996.48" y2="481.75" stroke="#ffffff" stroke-opacity="0.07" stroke-width="0.8"/>
<line x1="1008.60" y1="388.42" x2="1008.60" y2="481.75" stroke="#ffffff" stroke-opacity="0.07" stroke-width="0.8"/>
<line x1="1020.72" y1="388.42" x2="1020.72" y2="481.75" stroke="#ffffff" stroke-opacity="0.07" stroke-width="0.8"/>
<line x1="1032.84" y1="389.82" x2="1032.84" y2="481.75" stroke="#ffffff" stroke-opacity="0.07" stroke-width="0.8"/>
<line x1="1044.96" y1="389.82" x2="1044.96" y2="481.75" stroke="#ffffff" stroke-opacity="0.07" stroke-width="0.8"/>
<line x1="1057.08" y1="382.08" x2="1057.08" y2="481.75" stroke="#ffffff" stroke-opacity="0.07" stroke-width="0.8"/>
<line x1="1069.20" y1="386.52" x2="1069.20" y2="481.75" stroke="#ffffff" stroke-opacity="0.07" stroke-width="0.8"/>
<line x1="1081.32" y1="386.52" x2="1081.32" y2="481.75" stroke="#ffffff" stroke-opacity="0.07" stroke-width="0.8"/>
<line x1="1093.44" y1="381.00" x2="1093.44" y2="481.75" stroke="#ffffff" stroke-opacity="0.07" stroke-width="0.8"/>
<line x1="1105.56" y1="378.95" x2="1105.56" y2="481.75" stroke="#ffffff" stroke-opacity="0.07" stroke-width="0.8"/>
<line x1="1117.68" y1="378.95" x2="1117.68" y2="481.75" stroke="#ffffff" stroke-opacity="0.07" stroke-width="0.8"/>
<line x1="1129.80" y1="387.59" x2="1129.80" y2="481.75" stroke="#ffffff" stroke-opacity="0.07" stroke-width="0.8"/>
<line x1="1141.92" y1="388.83" x2="1141.92" y2="481.75" stroke="#ffffff" stroke-opacity="0.07" stroke-width="0.8"/>
<line x1="1154.04" y1="388.83" x2="1154.04" y2="481.75" stroke="#ffffff" stroke-opacity="0.07" stroke-width="0.8"/>
<line x1="1166.16" y1="385.37" x2="1166.16" y2="481.75" stroke="#ffffff" stroke-opacity="0.07" stroke-width="0.8"/>
<line x1="1178.28" y1="376.47" x2="1178.28" y2="481.75" stroke="#ffffff" stroke-opacity="0.07" stroke-width="0.8"/>
<line x1="1190.40" y1="379.77" x2="1190.40" y2="481.75" stroke="#ffffff" stroke-opacity="0.07" stroke-width="0.8"/>
<line x1="1202.52" y1="384.30" x2="1202.52" y2="481.75" stroke="#ffffff" stroke-opacity="0.07" stroke-width="0.8"/>
<line x1="1214.64" y1="384.30" x2="1214.64" y2="481.75" stroke="#ffffff" stroke-opacity="0.07" stroke-width="0.8"/>
<line x1="1226.76" y1="394.18" x2="1226.76" y2="481.75" stroke="#ffffff" stroke-opacity="0.07" stroke-width="0.8"/>
<line x1="1238.88" y1="394.18" x2="1238.88" y2="481.75" stroke="#ffffff" stroke-opacity="0.07" stroke-width="0.8"/>
<line x1="1251.00" y1="394.18" x2="1251.00" y2="481.75" stroke="#ffffff" stroke-opacity="0.07" stroke-width="0.8"/>
<line x1="1263.12" y1="389.82" x2="1263.12" y2="481.75" stroke="#ffffff" stroke-opacity="0.07" stroke-width="0.8"/>
<line x1="1275.24" y1="390.07" x2="1275.24" y2="481.75" stroke="#ffffff" stroke-opacity="0.07" stroke-width="0.8"/>
<line x1="1287.36" y1="390.07" x2="1287.36" y2="481.75" stroke="#ffffff" stroke-opacity="0.07" stroke-width="0.8"/>
<line x1="1299.48" y1="388.42" x2="1299.48" y2="481.75" stroke="#ffffff" stroke-opacity="0.07" stroke-width="0.8"/>
<line x1="1311.60" y1="392.95" x2="1311.60" y2="481.75" stroke="#ffffff" stroke-opacity="0.07" stroke-width="0.8"/>
<line x1="1323.72" y1="392.95" x2="1323.72" y2="481.75" stroke="#ffffff" stroke-opacity="0.07" stroke-width="0.8"/>
<line x1="1335.84" y1="385.37" x2="1335.84" y2="481.75" stroke="#ffffff" stroke-opacity="0.07" stroke-width="0.8"/>
<line x1="1347.96" y1="385.37" x2="1347.96" y2="481.75" stroke="#ffffff" stroke-opacity="0.07" stroke-width="0.8"/>
<line x1="1360.08" y1="392.13" x2="1360.08" y2="481.75" stroke="#ffffff" stroke-opacity="0.07" stroke-width="0.8"/>
<line x1="1372.20" y1="392.95" x2="1372.20" y2="481.75" stroke="#ffffff" stroke-opacity="0.07" stroke-width="0.8"/>
<line x1="1384.32" y1="392.95" x2="1384.32" y2="481.75" stroke="#ffffff" stroke-opacity="0.07" stroke-width="0.8"/>
<line x1="1396.44" y1="432.90" x2="1396.44" y2="481.75" stroke="#ffffff" stroke-opacity="0.07" stroke-width="0.8"/>
</g>
<line x1="715" y1="482.5" x2="1402.6" y2="482.5" stroke="#e9e9e9" stroke-width="1"/>
<text transform="translate(717.50,497.80) scale(1.0570,1)" x="0" y="0" font-size="13" font-weight="400" text-anchor="start" fill="#303030" >Jul 2024</text>
<text transform="translate(877.00,497.80) scale(1.0570,1)" x="0" y="0" font-size="13" font-weight="400" text-anchor="middle" fill="#303030" >Oct 2024</text>
<text transform="translate(1036.50,497.80) scale(1.0570,1)" x="0" y="0" font-size="13" font-weight="400" text-anchor="middle" fill="#303030" >Jan 2025</text>
<text transform="translate(1192.40,497.80) scale(1.0570,1)" x="0" y="0" font-size="13" font-weight="400" text-anchor="middle" fill="#303030" >Apr 2025</text>
<text transform="translate(1350.00,497.80) scale(1.0570,1)" x="0" y="0" font-size="13" font-weight="400" text-anchor="middle" fill="#303030" >Jul 2025</text>
<text transform="translate(1059.00,518.80) scale(1.0470,1)" x="0" y="0" font-size="12.7" font-weight="700" text-anchor="middle" fill="#1a1a1a" >Date</text>
<text x="712.5" y="376.5" font-size="13" font-weight="400" text-anchor="end" fill="#303030" >100</text>
<text x="712.5" y="431.9" font-size="13" font-weight="400" text-anchor="end" fill="#303030" >50</text>
<text x="712.5" y="481.3" font-size="13" font-weight="400" text-anchor="end" fill="#303030" >0</text>
<text transform="translate(682.0,424.5) rotate(-90)" x="0" y="0" font-size="13" font-weight="700" text-anchor="middle" fill="#1a1a1a">Total Accounts ...</text>
<text transform="translate(1414.60,381.70) scale(1.0220,1)" x="0" y="0" font-size="13.4" font-weight="700" text-anchor="start" fill="#1a1a1a" >UTM Med...</text>
<defs><clipPath id="lc0"><rect x="1400" y="385" width="100" height="97.60000000000002"/></clipPath></defs>
<g clip-path="url(#lc0)" transform="translate(0,0)">
<rect x="1414.5" y="395.0" width="8.7" height="6" fill="#1fa6ee"/>
<text transform="translate(1426.57,402.40) scale(1.0647,1)" x="0" y="0" font-size="13" font-weight="400" fill="#303030">Affiliate</text>
<rect x="1414.5" y="416.0" width="8.7" height="6" fill="#cd3a4e"/>
<text transform="translate(1425.52,423.40) scale(1.0082,1)" x="0" y="0" font-size="13" font-weight="400" fill="#303030">Email</text>
<rect x="1414.5" y="437.0" width="8.7" height="6" fill="#146b8b"/>
<text transform="translate(1425.97,444.40) scale(1.0279,1)" x="0" y="0" font-size="13" font-weight="400" fill="#303030">Organic</text>
<rect x="1414.5" y="458.0" width="8.7" height="6" fill="#fec200"/>
<text transform="translate(1425.52,465.40) scale(1.0109,1)" x="0" y="0" font-size="13" font-weight="400" fill="#303030">Paid So...</text>
<rect x="1414.5" y="479.0" width="8.7" height="6" fill="#fe8a40"/>
<text transform="translate(1425.45,486.40) scale(1.0733,1)" x="0" y="0" font-size="13" font-weight="400" fill="#303030">PPC</text>
</g>
<rect x="1491.8" y="388.4" width="2" height="60" rx="1" fill="#d2d2d2"/>
<text transform="translate(1414.60,577.70) scale(1.0220,1)" x="0" y="0" font-size="13.4" font-weight="700" text-anchor="start" fill="#1a1a1a" >UTM Med...</text>
<defs><clipPath id="lc196"><rect x="1400" y="385" width="100" height="97.60000000000002"/></clipPath></defs>
<g clip-path="url(#lc196)" transform="translate(0,196)">
<rect x="1415" y="396.5" width="8" height="3" fill="#1fa6ee"/>
<text transform="translate(1426.57,402.40) scale(1.0647,1)" x="0" y="0" font-size="13" font-weight="400" fill="#303030">Affiliate</text>
<rect x="1415" y="417.5" width="8" height="3" fill="#cd3a4e"/>
<text transform="translate(1425.52,423.40) scale(1.0082,1)" x="0" y="0" font-size="13" font-weight="400" fill="#303030">Email</text>
<rect x="1415" y="438.5" width="8" height="3" fill="#146b8b"/>
<text transform="translate(1425.97,444.40) scale(1.0279,1)" x="0" y="0" font-size="13" font-weight="400" fill="#303030">Organic</text>
<rect x="1415" y="459.5" width="8" height="3" fill="#fec200"/>
<text transform="translate(1425.52,465.40) scale(1.0109,1)" x="0" y="0" font-size="13" font-weight="400" fill="#303030">Paid So...</text>
<rect x="1415" y="480.5" width="8" height="3" fill="#fe8a40"/>
<text transform="translate(1425.45,486.40) scale(1.0733,1)" x="0" y="0" font-size="13" font-weight="400" fill="#303030">PPC</text>
</g>
<rect x="1491.8" y="584.4" width="2" height="60" rx="1" fill="#d2d2d2"/>
<line x1="715" y1="678.5" x2="1402.6" y2="678.5" stroke="#e9e9e9" stroke-width="1"/>
<text transform="translate(717.50,693.80) scale(1.0570,1)" x="0" y="0" font-size="13" font-weight="400" text-anchor="start" fill="#303030" >Jul 2024</text>
<text transform="translate(877.00,693.80) scale(1.0570,1)" x="0" y="0" font-size="13" font-weight="400" text-anchor="middle" fill="#303030" >Oct 2024</text>
<text transform="translate(1036.50,693.80) scale(1.0570,1)" x="0" y="0" font-size="13" font-weight="400" text-anchor="middle" fill="#303030" >Jan 2025</text>
<text transform="translate(1192.40,693.80) scale(1.0570,1)" x="0" y="0" font-size="13" font-weight="400" text-anchor="middle" fill="#303030" >Apr 2025</text>
<text transform="translate(1350.00,693.80) scale(1.0570,1)" x="0" y="0" font-size="13" font-weight="400" text-anchor="middle" fill="#303030" >Jul 2025</text>
<text transform="translate(1059.00,714.60) scale(1.0470,1)" x="0" y="0" font-size="12.7" font-weight="700" text-anchor="middle" fill="#1a1a1a" >Date</text>
<text x="712.5" y="577.6" font-size="13" font-weight="400" text-anchor="end" fill="#303030" >100</text>
<text x="712.5" y="629.9" font-size="13" font-weight="400" text-anchor="end" fill="#303030" >50</text>
<text x="712.5" y="676.9" font-size="13" font-weight="400" text-anchor="end" fill="#303030" >0</text>
<text transform="translate(682.0,620.6) rotate(-90)" x="0" y="0" font-size="13" font-weight="700" text-anchor="middle" fill="#1a1a1a">Total Accounts ...</text>
<polyline points="718.5,675.0 771.2,649.9 825.0,646.7 877.0,651.5 930.8,650.8 982.5,652.6 1036.3,645.6 1090.0,649.4 1138.5,646.3 1192.0,645.4 1244.3,644.0 1298.0,650.8 1349.8,649.0" fill="none" stroke="#e91e63" stroke-width="3" stroke-linejoin="miter" stroke-linecap="butt"/>
<polyline points="718.5,674.0 771.2,640.0 825.0,644.9 877.0,639.3 930.8,642.2 982.5,642.2 1036.3,642.6 1090.0,641.3 1138.5,635.5 1192.0,638.0 1244.3,644.9 1298.0,645.4 1349.8,647.6" fill="none" stroke="#1fe9b5" stroke-width="3" stroke-linejoin="miter" stroke-linecap="butt"/>
<polyline points="718.5,674.0 771.2,583.8 825.0,597.7 877.0,607.4 930.8,607.2 982.5,594.6 1036.3,589.5 1090.0,597.3 1138.5,585.2 1192.0,604.0 1244.3,597.7 1298.0,604.0 1349.8,603.1" fill="none" stroke="#cd3a4e" stroke-width="3" stroke-linejoin="miter" stroke-linecap="butt"/>
<polyline points="718.5,674.0 771.2,617.1 825.0,614.8 877.0,600.9 930.8,622.0 982.5,617.5 1036.3,616.2 1090.0,619.8 1138.5,612.6 1192.0,611.9 1244.3,612.6 1298.0,617.1 1349.8,616.2" fill="none" stroke="#fec200" stroke-width="3" stroke-linejoin="miter" stroke-linecap="butt"/>
<polyline points="718.5,675.0 771.2,646.3 825.0,635.5 877.0,635.5 930.8,656.6 982.5,637.7 1036.3,644.9 1090.0,639.1 1138.5,644.5 1192.0,652.6 1244.3,649.4 1298.0,652.6 1349.8,639.5" fill="none" stroke="#1fa6ee" stroke-width="3" stroke-linejoin="miter" stroke-linecap="butt"/>
<polyline points="718.5,672.0 771.2,578.9 825.0,579.3 877.0,577.0 930.8,582.9 982.5,574.8 1036.3,578.4 1090.0,584.7 1138.5,576.6 1192.0,580.7 1244.3,572.6 1298.0,576.6 1349.8,587.0" fill="none" stroke="#fe8a40" stroke-width="3" stroke-linejoin="miter" stroke-linecap="butt"/>
<polyline points="718.5,675.0 771.2,609.4 825.0,617.5 877.0,603.8 930.8,616.6 982.5,613.5 1036.3,608.5 1090.0,612.6 1138.5,612.6 1192.0,614.4 1244.3,609.4 1298.0,609.4 1349.8,610.8" fill="none" stroke="#146b8b" stroke-width="3" stroke-linejoin="miter" stroke-linecap="butt"/>
<line x1="243" y1="1351.5" x2="1016.5" y2="1351.5" stroke="#e9e9e9" stroke-width="1"/>
<text transform="translate(245.40,1366.50) scale(1.0570,1)" x="0" y="0" font-size="13" font-weight="400" text-anchor="start" fill="#303030" >Jul 2024</text>
<text transform="translate(425.00,1366.50) scale(1.0570,1)" x="0" y="0" font-size="13" font-weight="400" text-anchor="middle" fill="#303030" >Oct 2024</text>
<text transform="translate(604.30,1366.50) scale(1.0570,1)" x="0" y="0" font-size="13" font-weight="400" text-anchor="middle" fill="#303030" >Jan 2025</text>
<text transform="translate(780.00,1366.50) scale(1.0570,1)" x="0" y="0" font-size="13" font-weight="400" text-anchor="middle" fill="#303030" >Apr 2025</text>
<text transform="translate(957.60,1366.50) scale(1.0570,1)" x="0" y="0" font-size="13" font-weight="400" text-anchor="middle" fill="#303030" >Jul 2025</text>
<text transform="translate(629.80,1387.50) scale(1.0470,1)" x="0" y="0" font-size="12.7" font-weight="700" text-anchor="middle" fill="#1a1a1a" >Date</text>
<text x="240.4" y="1081.2" font-size="13" font-weight="400" text-anchor="end" fill="#303030" >100</text>
<text x="240.4" y="1136.2" font-size="13" font-weight="400" text-anchor="end" fill="#303030" >80</text>
<text x="240.4" y="1191.0" font-size="13" font-weight="400" text-anchor="end" fill="#303030" >60</text>
<text x="240.4" y="1246.0" font-size="13" font-weight="400" text-anchor="end" fill="#303030" >40</text>
<text x="240.4" y="1300.8" font-size="13" font-weight="400" text-anchor="end" fill="#303030" >20</text>
<text x="240.4" y="1350.4" font-size="13" font-weight="400" text-anchor="end" fill="#303030" >0</text>
<text transform="translate(210.2,1200.0) rotate(-90)" x="0" y="0" font-size="13" font-weight="700" text-anchor="middle" fill="#1a1a1a">Total Accounts Converted</text>
<polyline points="246.3,1333.6 306.6,1092.5 366.2,1092.5 425.3,1086.9 485.4,1103.1 544.1,1081.8 604.4,1091.8 664.7,1108.2 719.6,1086.9 779.2,1097.5 838.3,1076.1 898.4,1086.5 957.0,1113.9" fill="none" stroke="#cd3a4e" stroke-width="3" stroke-linejoin="miter" stroke-linecap="butt"/>
<line x1="1174" y1="1351.5" x2="1951.3" y2="1351.5" stroke="#e9e9e9" stroke-width="1"/>
<text transform="translate(1175.30,1366.50) scale(1.0570,1)" x="0" y="0" font-size="13" font-weight="400" text-anchor="start" fill="#303030" >Jul 2024</text>
<text transform="translate(1356.70,1366.50) scale(1.0570,1)" x="0" y="0" font-size="13" font-weight="400" text-anchor="middle" fill="#303030" >Oct 2024</text>
<text transform="translate(1537.20,1366.50) scale(1.0570,1)" x="0" y="0" font-size="13" font-weight="400" text-anchor="middle" fill="#303030" >Jan 2025</text>
<text transform="translate(1713.70,1366.50) scale(1.0570,1)" x="0" y="0" font-size="13" font-weight="400" text-anchor="middle" fill="#303030" >Apr 2025</text>
<text transform="translate(1892.00,1366.50) scale(1.0570,1)" x="0" y="0" font-size="13" font-weight="400" text-anchor="middle" fill="#303030" >Jul 2025</text>
<text transform="translate(1562.50,1387.50) scale(1.0470,1)" x="0" y="0" font-size="12.7" font-weight="700" text-anchor="middle" fill="#1a1a1a" >Date</text>
<text x="1170.8" y="1058.9" font-size="13" font-weight="400" text-anchor="end" fill="#303030" >80</text>
<text x="1170.8" y="1091.3" font-size="13" font-weight="400" text-anchor="end" fill="#303030" >70</text>
<text x="1170.8" y="1129.1" font-size="13" font-weight="400" text-anchor="end" fill="#303030" >60</text>
<text x="1170.8" y="1166.9" font-size="13" font-weight="400" text-anchor="end" fill="#303030" >50</text>
<text x="1170.8" y="1204.7" font-size="13" font-weight="400" text-anchor="end" fill="#303030" >40</text>
<text x="1170.8" y="1242.5" font-size="13" font-weight="400" text-anchor="end" fill="#303030" >30</text>
<text x="1170.8" y="1280.3" font-size="13" font-weight="400" text-anchor="end" fill="#303030" >20</text>
<text x="1170.8" y="1318.1" font-size="13" font-weight="400" text-anchor="end" fill="#303030" >10</text>
<text x="1170.8" y="1350.7" font-size="13" font-weight="400" text-anchor="end" fill="#303030" >0</text>
<text transform="translate(1144.9,1200.0) rotate(-90)" x="0" y="0" font-size="13" font-weight="700" text-anchor="middle" fill="#1a1a1a">Total Accounts Converted</text>
<polyline points="1176.2,1338.5 1237.0,1105.8 1297.6,1134.7 1356.8,1082.7 1417.3,1131.0 1476.4,1120.2 1536.8,1101.5 1597.7,1116.4 1653.0,1116.4 1713.7,1123.9 1773.3,1105.1 1832.9,1105.1 1891.4,1109.0" fill="none" stroke="#fec300" stroke-width="3.2" stroke-linejoin="miter" stroke-linecap="butt"/>
</svg></body></html>
